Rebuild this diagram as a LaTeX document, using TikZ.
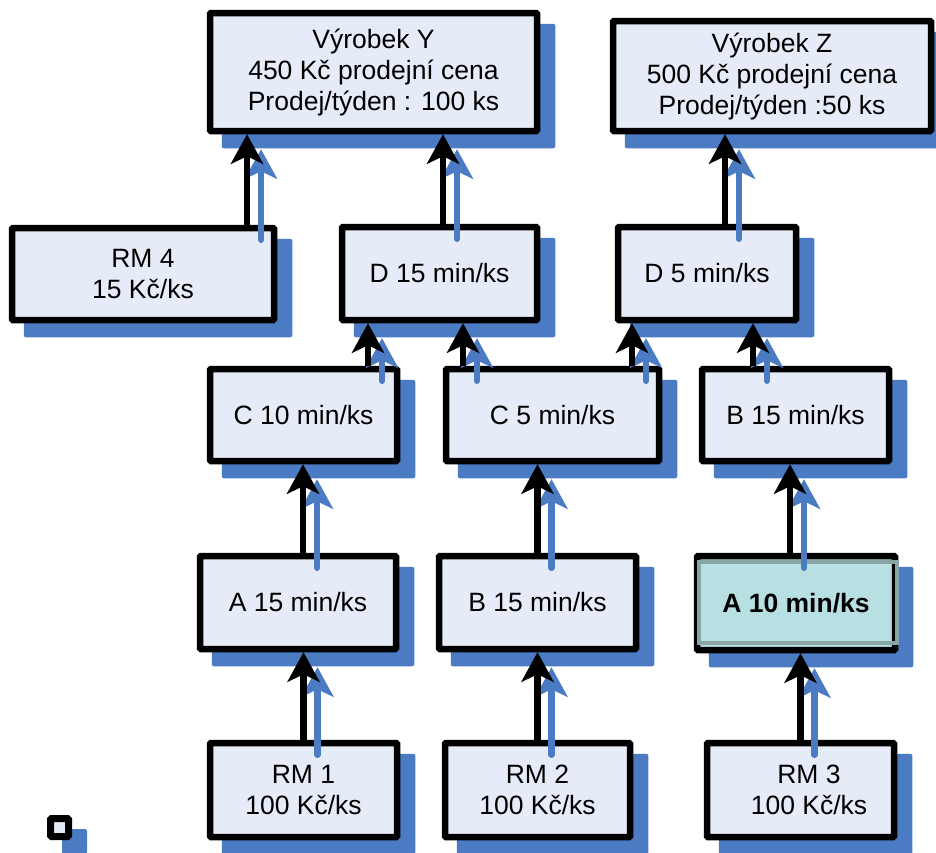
\documentclass[tikz,border=0pt]{standalone}
\usepackage{fontspec}
\setmainfont{Liberation Sans}
\usetikzlibrary{arrows.meta, backgrounds}
\definecolor{boxfill}{RGB}{230,236,247}
\definecolor{shadowblue}{RGB}{74,123,195}
\definecolor{tealfill}{RGB}{184,223,226}
\definecolor{tealline}{RGB}{138,166,164}
\tikzstyle{block} = [rectangle, rounded corners=1pt, line width=6.5pt, draw=black, fill=boxfill, align=center, inner sep=2pt, font=\fontsize{26.5pt}{31pt}\selectfont]
\tikzstyle{arrow} = [line width=6.5pt, -{Stealth[length=30pt, width=33pt, inset=8pt, line width=0pt]}]
\tikzstyle{shadowarrow} = [arrow, shadowblue, line cap=round]
\tikzstyle{boxshadow} = [fill=shadowblue, rounded corners=2pt]

\begin{document}
\begin{tikzpicture}[x=1pt, y=-1pt]
\useasboundingbox (0,0) rectangle (936,852);

\node (y) [block, minimum width=327pt, minimum height=118pt] at (373.5,72) {Výrobek Y\\450 Kč prodejní cena\\Prodej/týden : 100 ks};
\node (z) [block, minimum width=318pt, minimum height=110pt] at (772,76) {Výrobek Z\\500 Kč prodejní cena\\Prodej/týden :50 ks};
\node (rm4) [block, minimum width=262pt, minimum height=92pt] at (143,274) {RM 4\\15 Kč/ks};
\node (d15) [block, minimum width=195pt, minimum height=93pt] at (439.5,273.5) {D 15 min/ks};
\node (d5) [block, minimum width=178pt, minimum height=93pt] at (707,273.5) {D 5 min/ks};
\node (c10) [block, minimum width=187pt, minimum height=92pt] at (303.5,415) {C 10 min/ks};
\node (c5) [block, minimum width=213pt, minimum height=92pt] at (552.5,415) {C 5 min/ks};
\node (b15t) [block, minimum width=187pt, minimum height=92pt] at (795.5,415) {B 15 min/ks};
\node (a15) [block, minimum width=196pt, minimum height=93pt] at (298,602.5) {A 15 min/ks};
\node (b15m) [block, minimum width=197pt, minimum height=93pt] at (537.5,602.5) {B 15 min/ks};
\node (a10) [block, fill=tealfill, minimum width=198pt, minimum height=94pt] at (796,603) {\bfseries A 10 min/ks};
\node (rm1) [block, minimum width=187pt, minimum height=94pt] at (303.5,790) {RM 1\\100 Kč/ks};
\node (rm2) [block, minimum width=185pt, minimum height=94pt] at (537.5,790) {RM 2\\100 Kč/ks};
\node (rm3) [block, minimum width=187pt, minimum height=94pt] at (800.5,790) {\hspace*{17pt}RM 3\\\hspace*{17pt}100 Kč/ks};
\node (mark) [block, minimum width=18pt, minimum height=18pt, inner sep=0pt, line width=7pt] at (59.5,827.5) {};

\draw [tealline, line width=4pt] ([shift={(5,9)}]a10.north west) rectangle ([shift={(-1,-10)}]a10.south east);

\begin{scope}[on background layer]
\foreach \n in {y,z,rm4,d15,d5,c10,c5,b15t,a15,b15m,a10,rm1,rm2,rm3,mark}
  \fill [boxshadow] ([shift={(15,14)}]\n.south west) rectangle ([shift={(15,14)}]\n.north east);
\end{scope}

\draw [shadowarrow] ([xshift=118pt, yshift=-15pt]rm4.north) -- ([xshift=118pt, yshift=-15pt]rm4.north |- y.south);
\draw [arrow] ([xshift=104pt]rm4.north) -- ([xshift=104pt]rm4.north |- y.south);
\draw [shadowarrow] ([xshift=17.5pt, yshift=-15pt]d15.north) -- ([xshift=17.5pt, yshift=-15pt]d15.north |- y.south);
\draw [arrow] ([xshift=3.5pt]d15.north) -- ([xshift=3.5pt]d15.north |- y.south);
\draw [shadowarrow] ([xshift=32pt, yshift=-15pt]d5.north) -- ([xshift=32pt, yshift=-15pt]d5.north |- z.south);
\draw [arrow] ([xshift=18pt]d5.north) -- ([xshift=18pt]d5.north |- z.south);

\draw [shadowarrow] ([xshift=78.5pt, yshift=-15pt]c10.north) -- ([xshift=78.5pt, yshift=-15pt]c10.north |- d15.south);
\draw [arrow] ([xshift=64.5pt]c10.north) -- ([xshift=64.5pt]c10.north |- d15.south);
\draw [shadowarrow] ([xshift=-75.5pt, yshift=-15pt]c5.north) -- ([xshift=-75.5pt, yshift=-15pt]c5.north |- d15.south);
\draw [arrow] ([xshift=-89.5pt]c5.north) -- ([xshift=-89.5pt]c5.north |- d15.south);
\draw [shadowarrow] ([xshift=93.5pt, yshift=-15pt]c5.north) -- ([xshift=93.5pt, yshift=-15pt]c5.north |- d5.south);
\draw [arrow] ([xshift=79.5pt]c5.north) -- ([xshift=79.5pt]c5.north |- d5.south);
\draw [shadowarrow] ([xshift=-28.5pt, yshift=-15pt]b15t.north) -- ([xshift=-28.5pt, yshift=-15pt]b15t.north |- d5.south);
\draw [arrow] ([xshift=-42.5pt]b15t.north) -- ([xshift=-42.5pt]b15t.north |- d5.south);

\draw [shadowarrow] ([xshift=19pt, yshift=-15pt]a15.north) -- ([xshift=19pt, yshift=-15pt]a15.north |- c10.south);
\draw [arrow] ([xshift=5pt]a15.north) -- ([xshift=5pt]a15.north |- c10.south);
\draw [shadowarrow] ([xshift=14pt, yshift=-15pt]b15m.north) -- ([xshift=14pt, yshift=-15pt]b15m.north |- c5.south);
\draw [arrow] (b15m.north) -- (b15m.north |- c5.south);
\draw [shadowarrow] ([xshift=8pt, yshift=-15pt]a10.north) -- ([xshift=8pt, yshift=-15pt]a10.north |- b15t.south);
\draw [arrow] ([xshift=-6pt]a10.north) -- ([xshift=-6pt]a10.north |- b15t.south);

\draw [shadowarrow] ([xshift=14pt, yshift=-15pt]rm1.north) -- ([xshift=14pt, yshift=-15pt]rm1.north |- a15.south);
\draw [arrow] (rm1.north) -- (rm1.north |- a15.south);
\draw [shadowarrow] ([xshift=14pt, yshift=-15pt]rm2.north) -- ([xshift=14pt, yshift=-15pt]rm2.north |- b15m.south);
\draw [arrow] (rm2.north) -- (rm2.north |- b15m.south);
\draw [shadowarrow] ([xshift=14pt, yshift=-15pt]rm3.north) -- ([xshift=14pt, yshift=-15pt]rm3.north |- a10.south);
\draw [arrow] (rm3.north) -- (rm3.north |- a10.south);

\end{tikzpicture}
\end{document}
